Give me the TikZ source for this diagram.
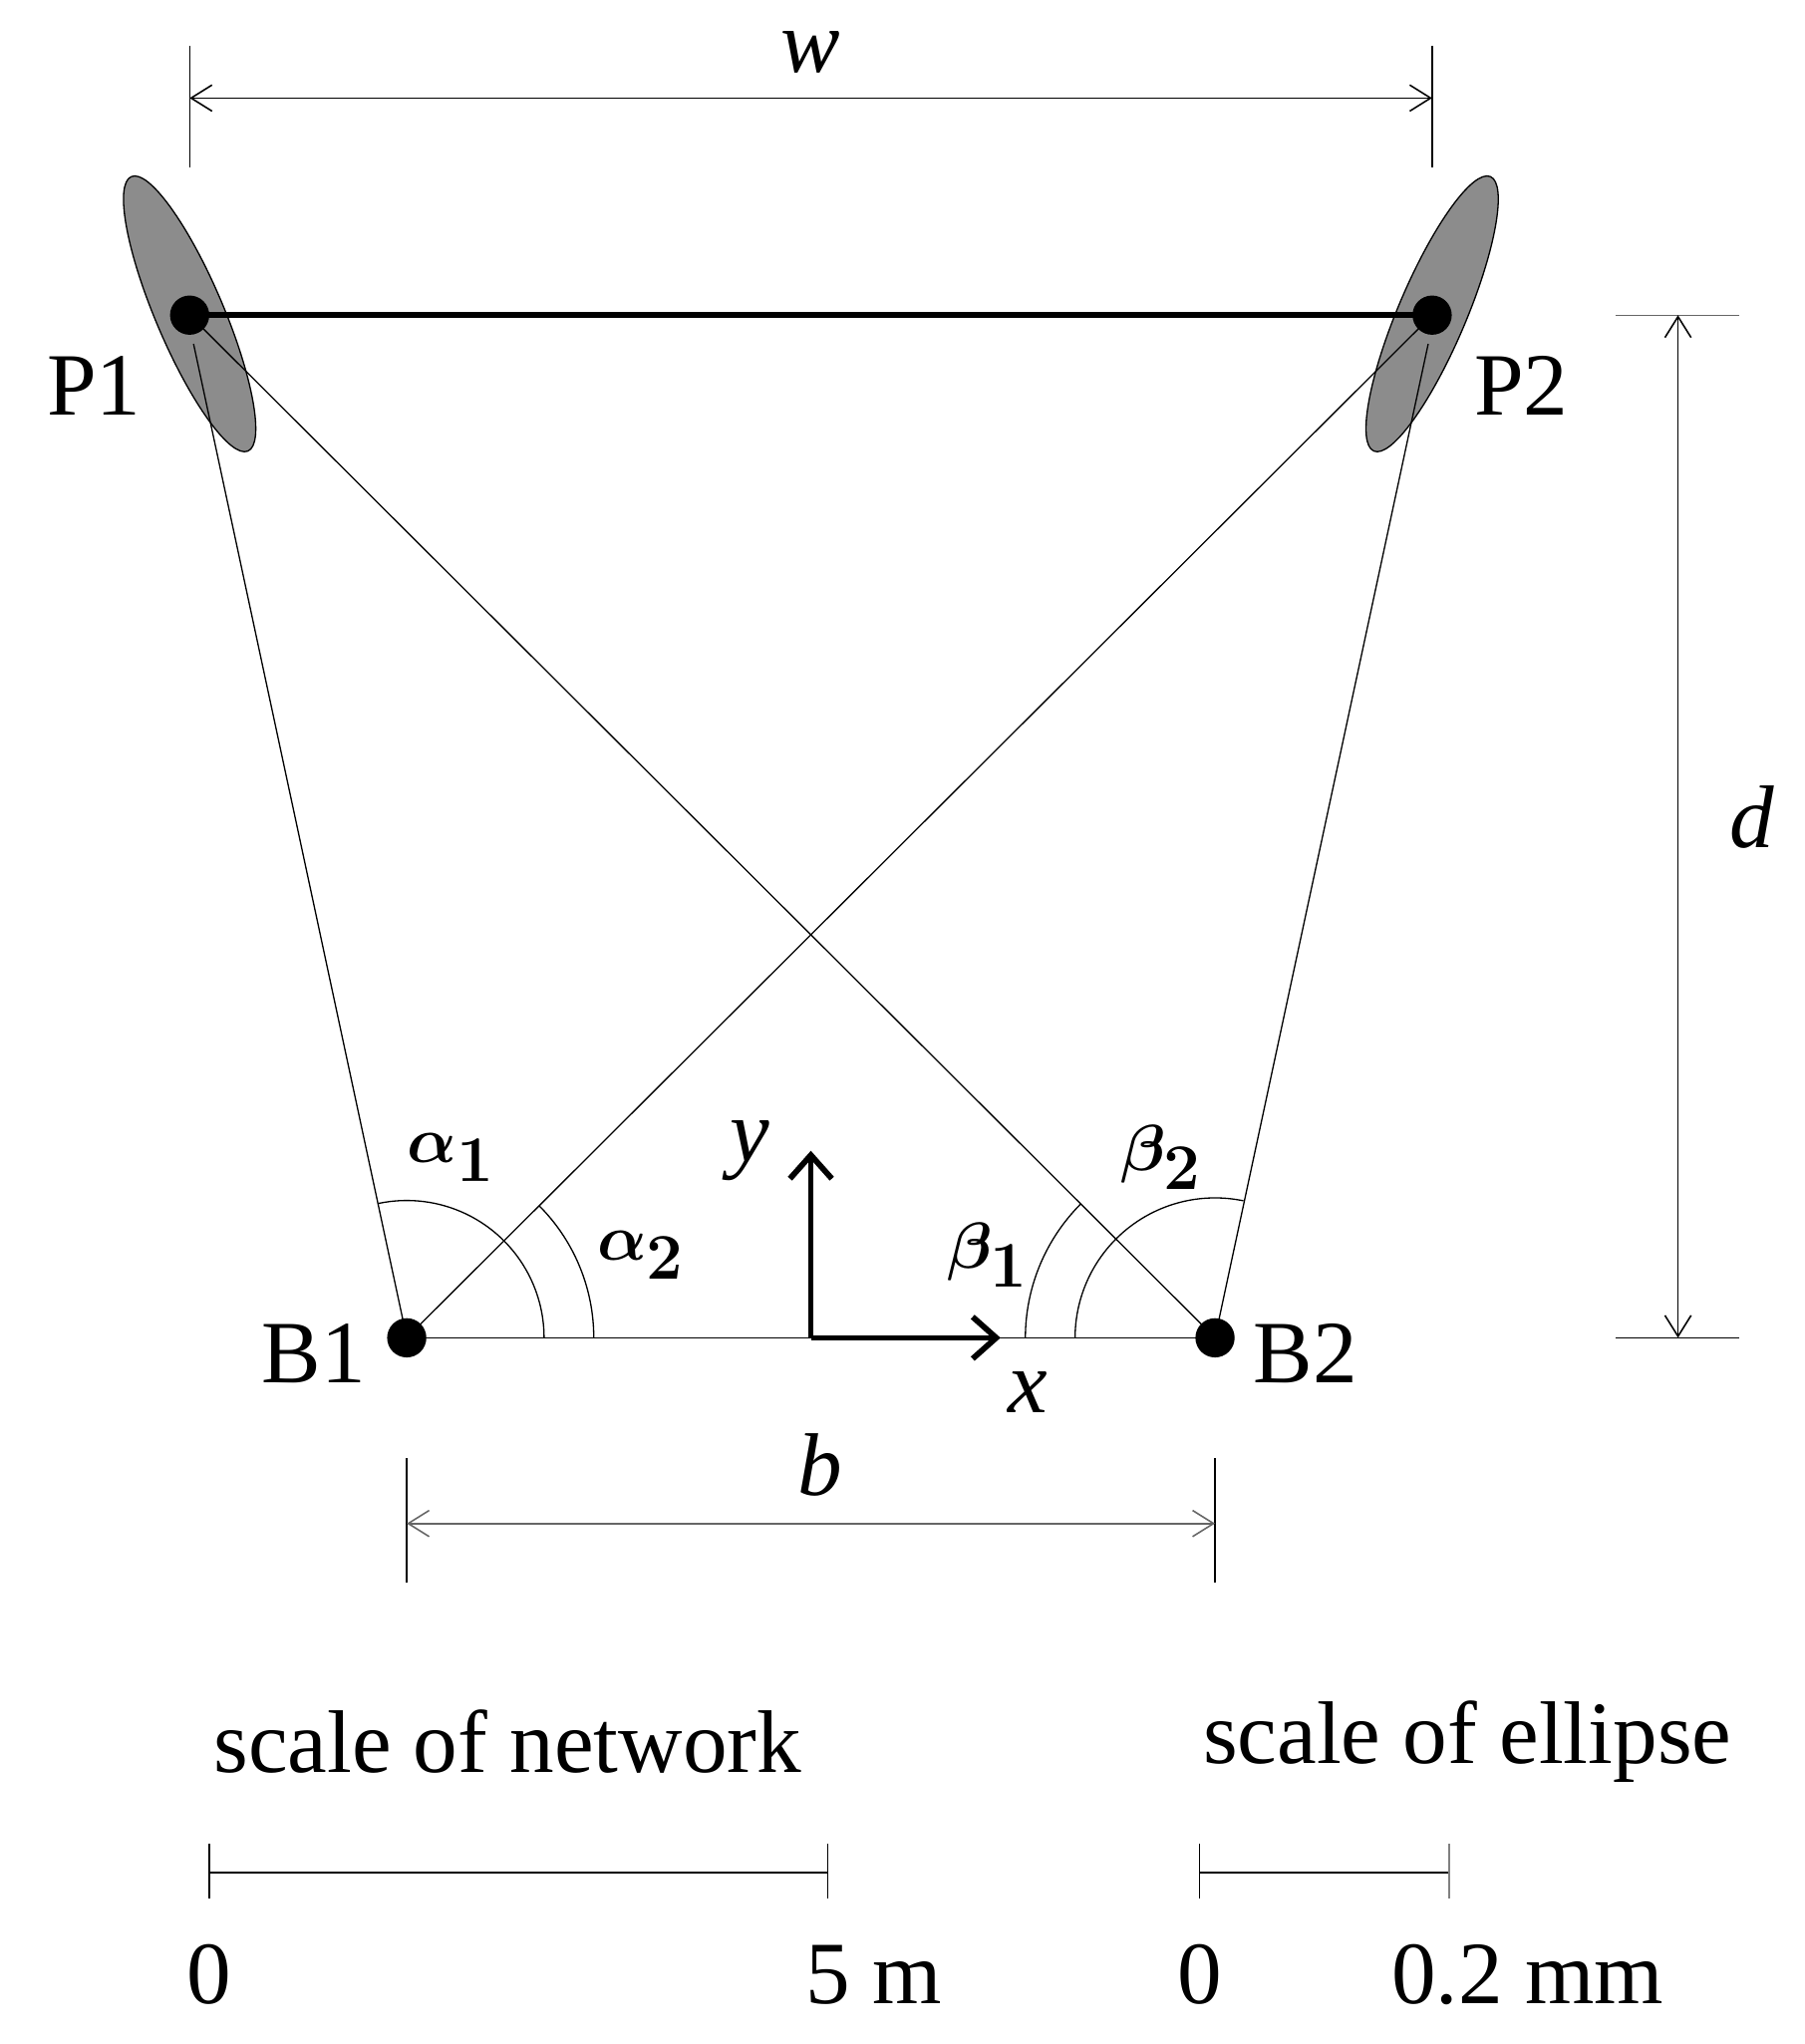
\documentclass[tikz,border=0pt]{standalone}
\usepackage{fontspec}
\setmainfont{Liberation Serif}
\usetikzlibrary{arrows.meta}
\begin{document}
\begin{tikzpicture}[x=0.5pt,y=0.5pt,
  lab/.style={font=\fontsize{34}{40}\selectfont},
  glab/.style={font=\fontsize{38}{44}\selectfont\boldmath},
  dim/.style={line width=0.6pt,{Straight Barb[length=8pt,width=10pt]}-{Straight Barb[length=8pt,width=10pt]}},
  thin line/.style={line width=0.5pt},
  dot/.style={circle,fill=black,inner sep=0pt,minimum size=15pt},
  ell/.style={draw=black,line width=0.5pt,fill=black!45}]
\useasboundingbox (0,0) rectangle (1380,1563);
% ellipses
\draw[ell,rotate around={23:(145,1323)}] (145,1323) ellipse (26 and 114);
\draw[ell,rotate around={-23:(1095,1323)}] (1095,1323) ellipse (26 and 114);
\node[dot] (P1) at (145,1322) {};
\node[dot] (P2) at (1095,1322) {};
\node[dot] (B1) at (311,540) {};
\node[dot] (B2) at (929,540) {};
\coordinate (T1) at (148,1300);
\coordinate (T2) at (1092,1300);
\draw[line width=2.2pt] (P1.center) -- (P2.center);
\draw[thin line] (P1.center) -- (B2.center);
\draw[thin line] (P2.center) -- (B1.center);
\draw[thin line] (T1) -- (B1.center);
\draw[thin line] (T2) -- (B2.center);
\draw[thin line] (B1.center) -- (B2.center);
% angle arcs
\draw[thin line] ([shift={(0:105)}]B1.center) arc (0:102.2:105);
\draw[thin line] ([shift={(0:143)}]B1.center) arc (0:44.9:143);
\draw[thin line] ([shift={(180:145)}]B2.center) arc (180:135.1:145);
\draw[thin line] ([shift={(180:107)}]B2.center) arc (180:78.3:107);
% axes
\coordinate (O) at (620,540);
\coordinate (Y) at (620,683);
\coordinate (X) at (765,540);
\draw[line width=2.2pt,-{Straight Barb[length=9pt,width=16pt]}] (O) -- (Y);
\draw[line width=2.2pt,-{Straight Barb[length=9pt,width=16pt]}] (O) -- (X);
\node[lab] (ly) at (573,683) {\textit{y}};
\node[lab] (lx) at (786,498) {\textit{x}};
% labels
\node[lab] (lP1) at (72,1268) {P1};
\node[lab] (lP2) at (1163,1268) {P2};
\node[lab] (lB1) at (240,528) {B1};
\node[lab] (lB2) at (998,528) {B2};
\node[glab] (la1) at (345,678) {$\alpha_1$};
\node[glab] (la2) at (490,603) {$\alpha_2$};
\node[glab] (lb1) at (755,603) {$\beta_1$};
\node[glab] (lb2) at (888,678) {$\beta_2$};
% w
\coordinate (w1a) at (145,1528); \coordinate (w1b) at (145,1435);
\coordinate (w2a) at (1095,1528); \coordinate (w2b) at (1095,1435);
\draw[thin line] (w1a) -- (w1b); \draw[thin line] (w2a) -- (w2b);
\coordinate (wl) at (145,1488); \coordinate (wr) at (1095,1488);
\draw[dim] (wl) -- (wr);
\node[lab] (lw) at (620,1523) {\textit{w}};
% d
\coordinate (d1a) at (1235,1322); \coordinate (d1b) at (1330,1322);
\coordinate (d2a) at (1235,540); \coordinate (d2b) at (1330,540);
\draw[thin line,black!60] (d1a) -- (d1b); \draw[thin line] (d2a) -- (d2b);
\coordinate (dt) at (1283,1322); \coordinate (db) at (1283,540);
\draw[dim] (dt) -- (db);
\node[lab] (ld) at (1340,938) {\textit{d}};
% b
\coordinate (b1a) at (311,448); \coordinate (b1b) at (311,353);
\coordinate (b2a) at (929,448); \coordinate (b2b) at (929,353);
\draw[thin line] (b1a) -- (b1b); \draw[thin line] (b2a) -- (b2b);
\coordinate (bl) at (311,398); \coordinate (br) at (929,398);
\draw[dim,black!60] (bl) -- (br);
\node[lab] (lbb) at (627,443) {\textit{b}};
% scales
\node[lab] (s1) at (388,231) {scale of network};
\node[lab] (s2) at (1122,231) {scale of ellipse};
\coordinate (a0) at (160,131); \coordinate (a5) at (633,131);
\coordinate (c0) at (917,131); \coordinate (c2) at (1108,131);
\draw[thin line] (a0) -- (a5); \draw[thin line] (c0) -- (c2);
\draw[thin line] (160,153) -- (160,111); \draw[thin line] (633,153) -- (633,111);
\draw[thin line] (917,153) -- (917,111); \draw[thin line,black!50] (1108,153) -- (1108,111);
\node[lab] (n0) at (160,53) {0};
\node[lab] (n5) at (668,53) {5 m};
\node[lab] (m0) at (917,53) {0};
\node[lab] (m2) at (1168,53) {0.2 mm};
\end{tikzpicture}
\end{document}
